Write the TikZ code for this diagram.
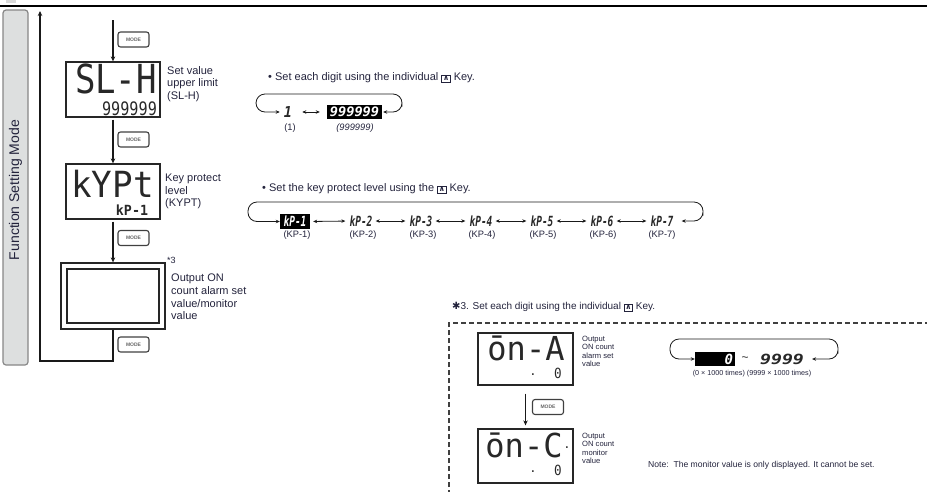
\documentclass[tikz,border=0pt]{standalone}
\usepackage{fontspec}
\usepackage{graphicx}
\setmainfont{Liberation Sans}
\newfontfamily\segfont{DejaVu Sans Mono}
\newfontfamily\djv{DejaVu Sans}
\usetikzlibrary{arrows.meta}
\definecolor{txt}{RGB}{35,35,60}
\definecolor{segc}{RGB}{40,40,40}
\definecolor{barfill}{RGB}{221,223,223}
\definecolor{barline}{RGB}{135,135,135}
\newcommand{\seg}[3]{\scalebox{#2}[1]{\fontsize{#1}{#1}\selectfont\segfont #3}}
\newcommand{\keyicon}{{\fboxsep=0.9pt\fboxrule=0.7pt\fbox{\djv\bfseries\fontsize{7.5}{7.5}\selectfont ∧}}}
\begin{document}
\begin{tikzpicture}[x=1pt,y=-1pt,
  lbl/.style={anchor=north west, inner sep=0pt, align=left, text=txt, font=\fontsize{11}{12.6}\selectfont},
  tiny/.style={anchor=north west, inner sep=0pt, align=left, text=txt, font=\fontsize{7.6}{8.4}\selectfont},
  sub/.style={inner sep=0pt, text=txt, font=\fontsize{9.3}{10}\selectfont},
  head/.style={anchor=west, inner sep=0pt, text=txt, font=\fontsize{11}{12}\selectfont},
  disp/.style={draw=black!85, line width=1.3pt, inner sep=0pt},
  modebtn/.style={draw=black!75, line width=1.1pt, rounded corners=2.5pt, minimum width=31pt, minimum height=15pt, inner sep=0pt, text=black!60, font=\fontsize{5}{5}\selectfont\bfseries},
  arr/.style={-{Stealth[length=5pt,width=4.5pt]}, line width=1.1pt, black!90},
  dbl/.style={{Stealth[length=4pt,width=3.5pt]}-{Stealth[length=4pt,width=3.5pt]}, line width=0.8pt, black!90},
  looparr/.style={dbl, rounded corners=9pt},
  sg/.style={inner sep=0pt, text=segc},
  inv/.style={fill=black, text=white, inner sep=0pt}
]
\useasboundingbox (0,0) rectangle (927,491);
% top rule
\fill[black!15] (6,0) rectangle (16,2.5);
\draw[line width=2.6pt] (0,6) -- (927,6);
% side bar
\draw[fill=barfill, draw=barline, line width=1.2pt, rounded corners=3pt] (3,10) rectangle (28,365);
\node[rotate=90, inner sep=0pt, text=txt, font=\fontsize{14}{15}\selectfont] (bar) at (15.5,190) {Function Setting Mode};

% displays
\coordinate (top0) at (113,20);
\node[disp, minimum width=94pt, minimum height=55pt] (d1) at (113,89.5) {};
\node[disp, minimum width=94pt, minimum height=55pt] (d2) at (113,191.5) {};
\node[disp, minimum width=104pt, minimum height=66pt] (d3o) at (113,296) {};
\node[disp, minimum width=92pt, minimum height=54pt] (d3i) at (113,296) {};

\node[sg] (t1) at (116,78.5) {\seg{40}{0.85}{SL-H}};
\node[sg] (t1s) at (129.5,108.5) {\seg{18.5}{0.82}{999999}};
\node[sg] (t2) at (112.5,184) {\seg{36}{0.95}{kYPt}};
\node[sg] (t2s) at (132,210.5) {\seg{14}{0.95}{\bfseries kP-1}};

% arrows
\draw[arr] (top0) -- (d1.north);
\draw[arr, shorten <=2pt] (d1.south) -- (d2.north);
\draw[arr, shorten <=2pt] (d2.south) -- (d3o.north);
\coordinate (lp) at (40,361);
\coordinate (lptop) at (40,11);
\draw[arr] (d3o.south) |- (lp) -- (lptop);

% mode buttons
\node[modebtn] (m0) at (133.5,39.5) {MODE};
\node[modebtn] (m1) at (133.5,139.5) {MODE};
\node[modebtn] (m2) at (133.5,238) {MODE};
\node[modebtn] (m3) at (133.5,344.5) {MODE};

% labels
\node[lbl] (l1) at (167,66) {Set value\\upper limit\\(SL-H)};
\node[lbl] (l2) at (165,174) {Key protect\\level\\(KYPT)};
\node[anchor=west, inner sep=0pt, text=txt, font=\fontsize{9}{10}\selectfont] (s3) at (167,260) {*3};
\node[lbl] (l3) at (171,274) {Output ON\\count alarm set\\value/monitor\\value};

% row 1
\node[head] (h1) at (268,78) {• Set each digit using the individual \keyicon\ Key.};
\node[sg] (r1a) at (288,112) {\seg{15}{0.9}{\bfseries\itshape 1}};
\node[inv, minimum width=55pt, minimum height=14pt] (r1b) at (354.5,112) {\seg{13}{1.05}{\bfseries\itshape 999999}};
\draw[dbl, shorten <=10pt, shorten >=7pt] (r1a) -- (r1b);
\coordinate (L1) at (256,94);
\coordinate (R1) at (402,112);
\draw[looparr, shorten <=4pt, shorten >=1pt] (r1a.west) -| (L1) -| (R1) |- (r1b.east);
\node[sub] (q1a) at (290,128.5) {(1)};
\node[sub] (q1b) at (355,128.5) {\itshape (999999)};

% row 2
\node[head] (h2) at (262,189) {• Set the key protect level using the \keyicon\ Key.};
\node[inv, minimum width=30pt, minimum height=15pt] (k1) at (295,221.5) {\seg{14}{0.68}{\bfseries\itshape kP-1}};
\node[sg] (k2) at (361,221) {\seg{14}{0.68}{\bfseries\itshape kP-2}};
\node[sg] (k3) at (421,221) {\seg{14}{0.68}{\bfseries\itshape kP-3}};
\node[sg] (k4) at (481,221) {\seg{14}{0.68}{\bfseries\itshape kP-4}};
\node[sg] (k5) at (542,221) {\seg{14}{0.68}{\bfseries\itshape kP-5}};
\node[sg] (k6) at (602,221) {\seg{14}{0.68}{\bfseries\itshape kP-6}};
\node[sg] (k7) at (662,221) {\seg{14}{0.68}{\bfseries\itshape kP-7}};
\foreach \a/\b in {k1/k2,k2/k3,k3/k4,k4/k5,k5/k6,k6/k7}
  \draw[dbl, shorten <=3pt, shorten >=4pt] (\a.east) -- (\b.west);
\coordinate (L2) at (248,202);
\coordinate (R2) at (703,221);
\draw[looparr, shorten >=8pt] (k1.west) -| (L2) -| (R2) |- (k7.east);
\node[sub] (p1) at (297,235) {(KP-1)};
\node[sub] (p2) at (363,235) {(KP-2)};
\node[sub] (p3) at (423,235) {(KP-3)};
\node[sub] (p4) at (482,235) {(KP-4)};
\node[sub] (p5) at (543,235) {(KP-5)};
\node[sub] (p6) at (603,235) {(KP-6)};
\node[sub] (p7) at (662,235) {(KP-7)};

% dashed section
\node[anchor=west, inner sep=0pt, text=txt, font=\fontsize{10}{11}\selectfont] (h3) at (452,307) {{\djv\bfseries ✱}3. Set each digit using the individual \keyicon\ Key.};
\draw[dashed, dash pattern=on 5pt off 3pt, line width=1.1pt, black!75] (449,495) -- (449,323) -- (930,323);

\node[disp, minimum width=95pt, minimum height=52pt] (da) at (525.5,359) {};
\node[disp, minimum width=95pt, minimum height=54pt] (dc) at (525.5,456) {};
\node[sg] (ta) at (526,348) {\seg{33}{0.97}{ōn-A}};
\node[sg] (tad) at (533,375) {\seg{12}{1}{.}};
\node[sg] (ta0) at (558,373) {\seg{14}{0.9}{0}};
\node[sg] (tc) at (524,445) {\seg{33}{0.97}{ōn-C}};
\node[sg] (tcd) at (567,448) {\seg{12}{1}{.}};
\node[sg] (tc1) at (533,472) {\seg{12}{1}{.}};
\node[sg] (tc0) at (558,470) {\seg{14}{0.9}{0}};
\draw[arr, shorten <=8pt, shorten >=3pt] (da.south) -- (dc.north);
\node[modebtn] (m4) at (548,407) {MODE};

\node[tiny] (la) at (582,336) {Output\\ON count\\alarm set\\value};
\node[tiny] (lc) at (582,433) {Output\\ON count\\monitor\\value};

\node[inv, minimum height=14pt, inner xsep=2pt, text width=36pt, align=right] (bx) at (715,359) {\seg{14}{1}{\bfseries\itshape 0}};
\node[sg, font=\fontsize{12}{12}\selectfont] (tl) at (745,359) {\textasciitilde};
\node[sg] (n9) at (782,359) {\seg{14}{1.3}{\bfseries\itshape 9999}};
\coordinate (L3) at (670,339);
\coordinate (R3) at (838,359);
\draw[looparr, shorten >=8pt] (bx.west) -| (L3) -| (R3) |- (n9.east);
\node[inner sep=0pt, text=txt, font=\fontsize{7.2}{8}\selectfont] (rng) at (752,373.5) {(0 × 1000 times) (9999 × 1000 times)};

\node[anchor=west, inner sep=0pt, text=txt, font=\fontsize{8.6}{9}\selectfont] (note) at (648,465) {Note:\ \ The monitor value is only displayed. It cannot be set.};
\end{tikzpicture}
\end{document}
